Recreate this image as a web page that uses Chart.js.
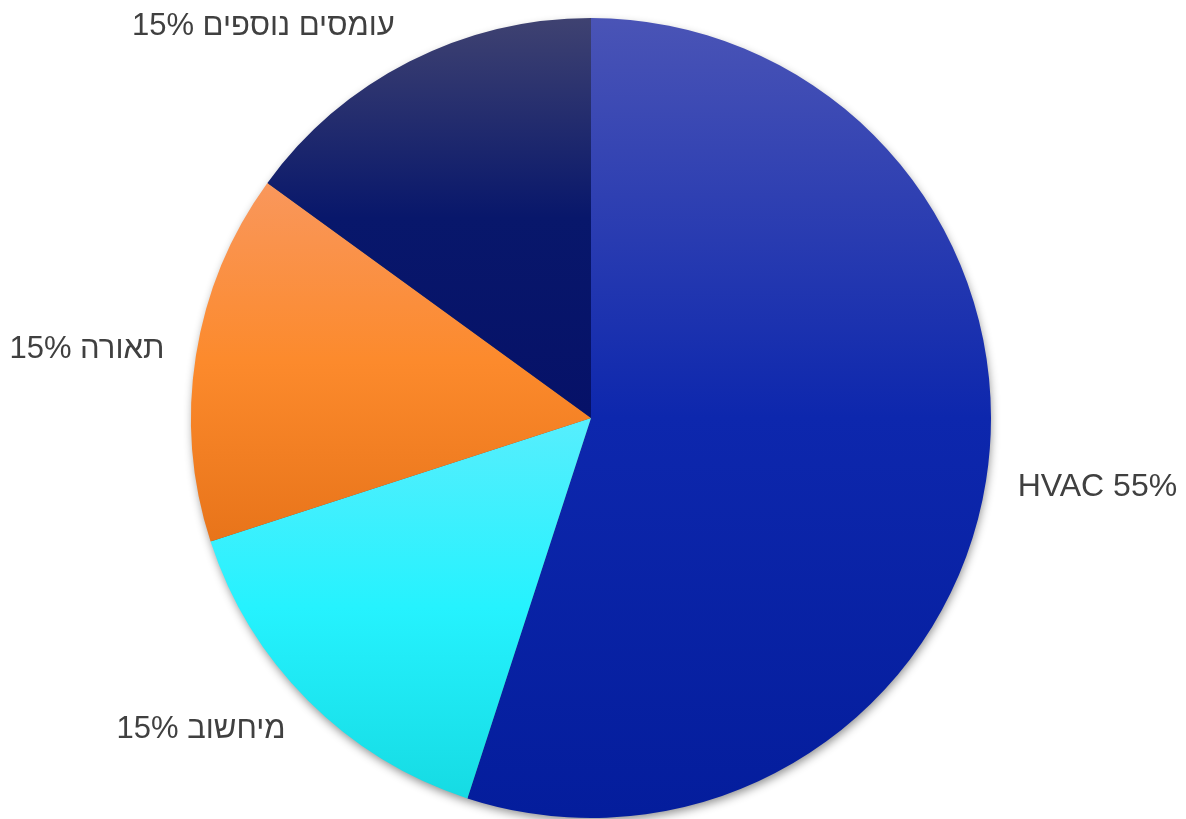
<!DOCTYPE html>
<html>
<head>
<meta charset="utf-8">
<script src="https://cdn.jsdelivr.net/npm/chart.js@4"></script>
<style>
  html, body { margin: 0; padding: 0; background: #ffffff; }
  #wrap { width: 1186px; height: 819px; }
</style>
</head>
<body>
<div id="wrap"><canvas id="energy_pie"></canvas></div>
<script>
// slice names and shares, clockwise from the top
const labels = ['HVAC', 'מיחשוב', 'תאורה', 'עומסים נוספים'];
const shares = [55, 15, 15, 15];
// gradient stops per slice: light top, base middle, dark bottom
const topColors = ['#4a54b6', '#57eefd', '#f9975c', '#3f4271'];
const midColors = ['#0d27ad', '#25f2fe', '#fc8a2c', '#08176b'];
const lowColors = ['#041d9c', '#16dbe3', '#e8741a', '#061168'];

const total = shares.reduce((a, b) => a + b, 0);

function sliceGradient(context) {
    const chart = context.chart;
    const area = chart.chartArea;
    if (!area) return midColors[context.dataIndex];
    const i = context.dataIndex;
    const cx = (area.left + area.right) / 2;
    const cy = (area.top + area.bottom) / 2;
    const r = Math.min(area.right - area.left, area.bottom - area.top) / 2;
    // slice angles, same as the pie controller (starts at top, clockwise)
    let before = 0;
    for (let k = 0; k < i; k++) before += shares[k];
    const a0 = before / total * Math.PI * 2 - Math.PI / 2;
    const a1 = (before + shares[i]) / total * Math.PI * 2 - Math.PI / 2;
    // vertical extent of the slice, centre included
    let yMin = cy, yMax = cy;
    for (let s = 0; s <= 100; s++) {
        const y = cy + r * Math.sin(a0 + (a1 - a0) * s / 100);
        yMin = Math.min(yMin, y);
        yMax = Math.max(yMax, y);
    }
    const g = chart.ctx.createLinearGradient(0, yMin, 0, yMax);
    g.addColorStop(0, topColors[i]);
    g.addColorStop(0.5, midColors[i]);
    g.addColorStop(1, lowColors[i]);
    return g;
}

// soft drop shadow under the whole pie
const pieShadow = {
    id: 'pieShadow',
    beforeDatasetsDraw(chart) {
        const arc = chart.getDatasetMeta(0).data[0];
        if (!arc) return;
        const ctx = chart.ctx;
        ctx.save();
        ctx.shadowColor = 'rgba(0,0,0,0.45)';
        ctx.shadowBlur = 10;
        ctx.shadowOffsetX = 1;
        ctx.shadowOffsetY = 4;
        ctx.fillStyle = '#5a5a5a';
        ctx.beginPath();
        ctx.arc(arc.x, arc.y, arc.outerRadius - 1, 0, Math.PI * 2);
        ctx.fill();
        ctx.restore();
    }
};

// outside labels, "name share%"
const outsideLabels = {
    id: 'outsideLabels',
    afterDatasetsDraw(chart) {
        const ctx = chart.ctx;
        const meta = chart.getDatasetMeta(0);
        ctx.save();
        ctx.fillStyle = '#404040';
        ctx.textBaseline = 'middle';
        meta.data.forEach((arc, i) => {
            const mid = (arc.startAngle + arc.endAngle) / 2;
            // labels sit a bit further out vertically than sideways
            const x = arc.x + Math.cos(mid) * (arc.outerRadius + 32);
            const y = arc.y + Math.sin(mid) * (arc.outerRadius + 40);
            const hebrew = /[\u0590-\u05FF]/.test(labels[i]);
            ctx.font = (hebrew ? 31 : 32) + 'px "Liberation Sans", Arial, sans-serif';
            ctx.direction = hebrew ? 'rtl' : 'ltr';
            ctx.textAlign = Math.cos(mid) < 0 ? 'right' : 'left';
            ctx.fillText(labels[i] + ' ' + shares[i] + '%', x, y);
        });
        ctx.restore();
    }
};

new Chart(document.getElementById('energy_pie'), {
    type: 'pie',
    data: {
        labels: labels,
        datasets: [{
            data: shares,
            backgroundColor: sliceGradient,
            borderWidth: 0,
            hoverOffset: 0
        }]
    },
    options: {
        responsive: true,
        maintainAspectRatio: false,
        animation: false,
        layout: { padding: { top: 18, bottom: 1, left: 0, right: 4 } },
        plugins: {
            legend: { display: false },
            tooltip: { enabled: false }
        }
    },
    plugins: [pieShadow, outsideLabels]
});
</script>
</body>
</html>
